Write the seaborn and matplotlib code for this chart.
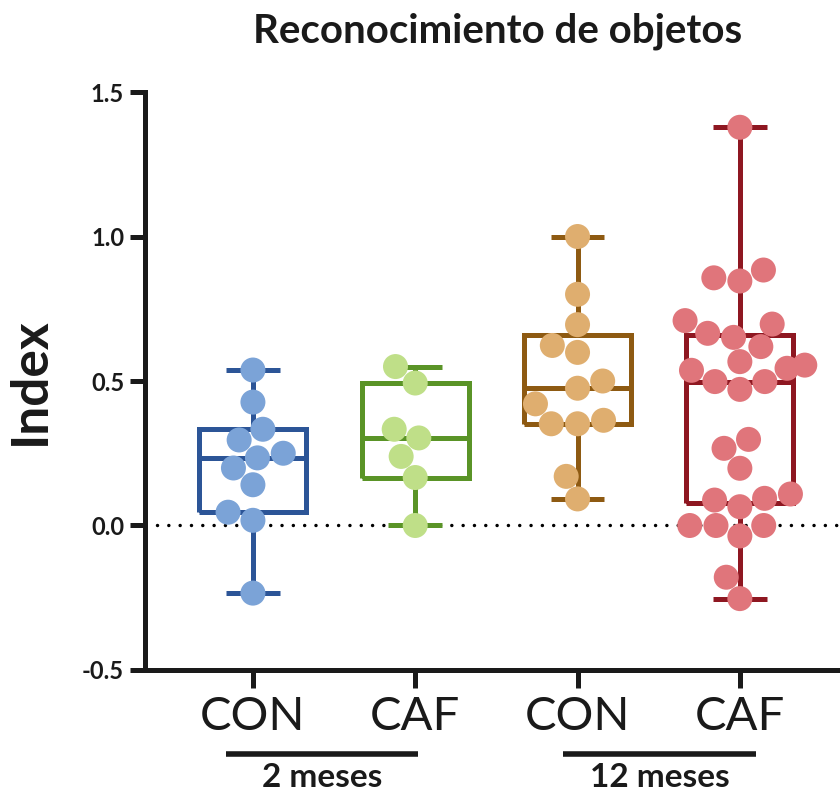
import numpy as np
import pandas as pd
import matplotlib
matplotlib.use("Agg")
import matplotlib.pyplot as plt
import seaborn as sns

# Discrimination index per animal, one array per group
con_2m = [0.538, 0.427, 0.333, 0.296, 0.250, 0.234, 0.199, 0.141, 0.046, 0.018, -0.234]
caf_2m = [0.550, 0.493, 0.333, 0.303, 0.239, 0.166, 0.000]
con_12m = [1.000, 0.800, 0.695, 0.623, 0.599, 0.500, 0.475, 0.421, 0.364, 0.352,
           0.352, 0.170, 0.092]
caf_12m = [1.378, 0.884, 0.857, 0.846, 0.709, 0.697, 0.665, 0.651, 0.619, 0.567,
           0.555, 0.544, 0.537, 0.498, 0.498, 0.471, 0.298, 0.267, 0.198, 0.109,
           0.094, 0.088, 0.065, 0.000, 0.000, 0.000, -0.036, -0.179, -0.253]

group_keys = ["CON_2", "CAF_2", "CON_12", "CAF_12"]
tick_labels = ["CON", "CAF", "CON", "CAF"]
age_labels = ["2 meses", "12 meses"]
title = "Reconocimiento de objetos"
y_label = "Index"
y_ticks = [-0.5, 0.0, 0.5, 1.0, 1.5]

edge_colors = ["#2C5597", "#5A9427", "#8E5A12", "#8E1721"]
point_colors = ["#7BA3D7", "#BFDF88", "#DFAE6F", "#E0757B"]

values = [con_2m, caf_2m, con_12m, caf_12m]
df = pd.DataFrame({
    "group": np.repeat(group_keys, [len(v) for v in values]),
    "index": np.concatenate(values),
})

sns.set_style("ticks")
plt.rcParams["font.family"] = ["Lato", "DejaVu Sans"]
ink = "#1a1a1a"

fig = plt.figure(figsize=(8.4, 7.96), dpi=100)
ax = fig.add_axes([0.1726, 0.1583, 0.8274, 0.7261])

# Points
sns.swarmplot(data=df, x="group", y="index", hue="group", order=group_keys,
              hue_order=group_keys, palette=point_colors, size=18,
              linewidth=0, legend=False, ax=ax, zorder=4, warn_thresh=1.0)

# Box and whiskers (min to max), quartiles by the (n+1)p rule
stats = []
for v in values:
    arr = np.asarray(v)
    q1, med, q3 = np.percentile(arr, [25, 50, 75], method="weibull")
    stats.append(dict(med=med, q1=q1, q3=q3, whislo=arr.min(), whishi=arr.max(),
                      fliers=[]))
for i, (st, col) in enumerate(zip(stats, edge_colors)):
    line_kw = dict(color=col, linewidth=3.6, solid_joinstyle="miter",
                   solid_capstyle="butt")
    ax.bxp([st], positions=[i], widths=0.66, capwidths=0.33, showfliers=False,
           boxprops=line_kw, whiskerprops=line_kw, capprops=line_kw,
           medianprops=line_kw, manage_ticks=False, zorder=3)

# Zero reference
ax.axhline(0, xmin=0.017, xmax=1, color="black", linewidth=2.5,
           linestyle=(0, (0.01, 3.25)), dash_capstyle="round", zorder=2)

ax.set_xlim(-0.665, 3.617)
ax.set_ylim(-0.5, 1.5)
ax.set_yticks(y_ticks)
ax.set_yticklabels([f"{t:.1f}" for t in y_ticks], fontsize=17, fontweight="bold",
                   color=ink)
ax.set_xticks(range(len(group_keys)))
ax.set_xticklabels(tick_labels, fontsize=34, color=ink)
ax.set_xlabel("")
ax.set_ylabel(y_label, fontsize=37, fontweight="bold", color=ink, labelpad=20)

for side in ["top", "right"]:
    ax.spines[side].set_visible(False)
for side in ["left", "bottom"]:
    ax.spines[side].set_linewidth(3.6)
    ax.spines[side].set_color(ink)
    ax.spines[side].set_capstyle("projecting")
ax.tick_params(axis="y", length=11, width=3.6, color=ink, pad=4)
ax.tick_params(axis="x", length=13, width=3.6, color=ink, pad=6)

# Age group brackets under the category labels
for (x0, x1), lab in zip([(-0.166, 1.017), (1.91, 3.10)], age_labels):
    ax.plot([x0, x1], [-0.79, -0.79], color=ink, linewidth=4, clip_on=False,
            solid_capstyle="butt")
    ax.text((x0 + x1) / 2, -0.905, lab, ha="center", va="baseline", fontsize=24,
            fontweight="bold", color=ink, clip_on=False)

fig.text(0.592, 1 - 43 / 796, title, ha="center", va="baseline", fontsize=29,
         fontweight="bold", color=ink)

fig.savefig("out.png", dpi=100)
